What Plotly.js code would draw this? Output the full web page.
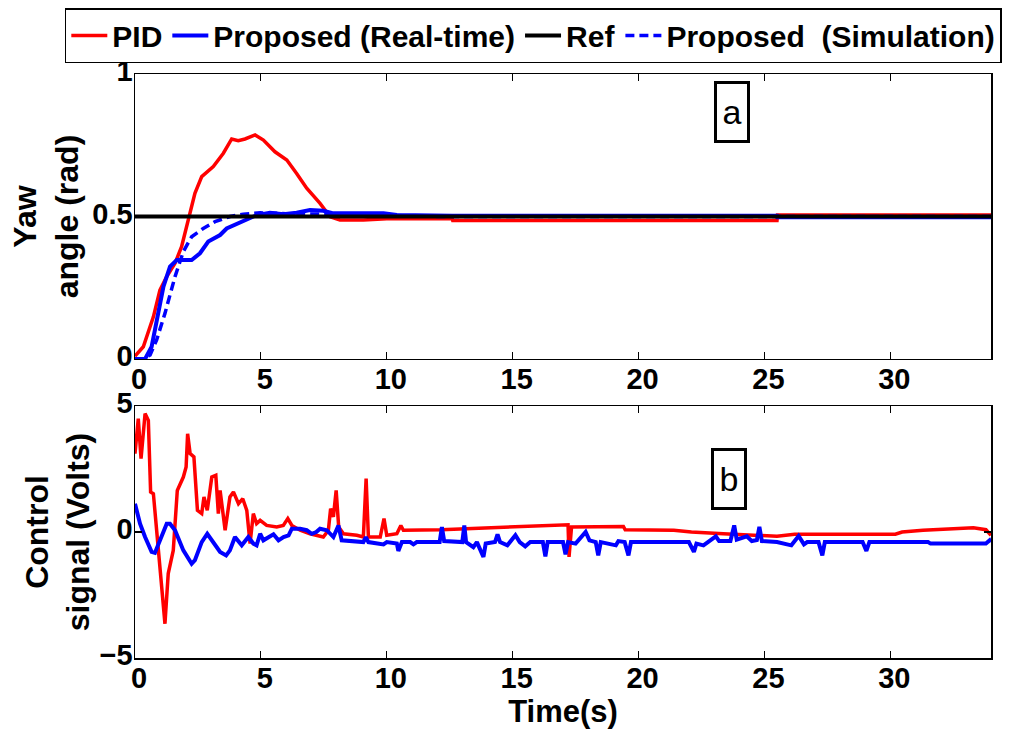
<!DOCTYPE html>
<html>
<head>
<meta charset="utf-8">
<script src="https://cdn.plot.ly/plotly-3.0.1.min.js"></script>
<style>html,body{margin:0;padding:0;background:#fff;}#chart{width:1016px;height:737px;}</style>
</head>
<body>
<div id="chart"></div>
<script>
// ---------- (a) Yaw angle ----------
const pidYawT = [0,0.33,0.73,0.99,1.26,1.59,1.85,2.12,2.38,2.65,3.11,3.51,3.84,4.1,4.37,4.77,5.10,5.56,6.03,6.42,6.82,7.35,7.75,8.14,9.07,10.0,12.6,12.62,25.5,25.52,34];
const pidYawV = [0.01,0.043,0.148,0.242,0.289,0.336,0.394,0.488,0.581,0.64,0.675,0.722,0.772,0.766,0.772,0.786,0.768,0.727,0.698,0.651,0.599,0.546,0.499,0.488,0.488,0.492,0.492,0.486,0.486,0.505,0.505];

const propYawT = [0,0.4,0.66,0.93,1.13,1.39,1.66,2.25,2.58,2.91,3.38,3.64,3.97,4.44,4.83,5.36,5.89,6.42,6.95,7.48,7.88,8.94,9.87,10.4,12.6,25.5,25.52,34];
const propYawV = [0,0,0.043,0.16,0.254,0.324,0.347,0.347,0.371,0.412,0.435,0.458,0.47,0.488,0.505,0.513,0.508,0.513,0.523,0.52,0.511,0.511,0.511,0.505,0.503,0.503,0.497,0.497];

const simYawT = [0,0.3,0.6,0.86,1.19,1.59,1.92,2.25,2.71,3.18,3.77,4.30,4.97,6,8,10,12,34];
const simYawV = [0,0,0.014,0.067,0.16,0.289,0.377,0.429,0.458,0.482,0.5,0.508,0.513,0.51,0.508,0.503,0.5,0.5];

const refT = [0,34];
const refV = [0.5,0.5];

// ---------- (b) Control signal ----------
const pidCtrlT = [0,0.13,0.24,0.40,0.53,0.62,0.73,0.93,1.19,1.32,1.52,1.68,1.92,2.03,2.09,2.19,2.34,2.48,2.65,2.74,2.87,3.05,3.21,3.31,3.38,3.58,3.77,3.91,4.11,4.28,4.44,4.57,4.70,4.83,4.97,5.23,5.63,5.89,6.07,6.23,6.56,6.95,7.48,7.68,7.77,7.88,7.99,8.09,8.28,8.81,9.07,9.18,9.27,9.74,9.89,10.0,10.4,10.56,10.66,12.16,14.15,16.28,17.2,17.24,17.34,19.4,19.47,21.4,22.1,23.37,25.5,26.2,30.2,30.47,31.3,33.3,33.8,34.0];
const pidCtrlV = [3.11,4.50,2.91,4.70,4.43,1.59,1.52,-0.73,-3.64,-1.65,-0.73,1.65,2.18,2.58,3.90,3.11,2.98,0.86,0.73,1.39,0.86,2.18,2.25,0.73,1.65,0.07,1.39,1.59,1.12,1.32,0.86,-0.46,0.73,0.33,0.46,0.26,0.20,0.26,0.53,0.26,0.07,-0.07,-0.20,0.07,0.93,0.60,1.65,0.20,-0.07,-0.13,-0.20,2.12,-0.20,-0.20,0.53,-0.13,-0.07,0.26,0.07,0.09,0.17,0.26,0.29,-0.99,0.20,0.22,0.09,0.07,0.0,-0.07,-0.17,-0.09,-0.09,0.0,0.07,0.17,0.09,-0.13];

const propCtrlT = [0,0.2,0.4,0.66,0.79,0.99,1.26,1.39,1.59,1.92,2.25,2.38,2.65,2.87,3.05,3.38,3.62,3.77,3.97,4.24,4.50,4.70,4.83,4.97,5.1,5.3,5.5,5.7,5.9,6.1,6.23,6.56,6.82,7.02,7.2,7.35,7.62,7.88,8.08,8.21,9.07,9.17,9.27,9.87,10.0,10.4,10.46,10.6,10.93,11.06,11.19,12.1,12.19,12.28,13.0,13.08,13.15,13.44,13.58,13.84,13.93,14.3,14.4,14.5,14.79,15.11,15.28,15.5,15.7,16.2,16.3,16.39,17.0,17.1,17.2,17.5,17.9,18.05,18.3,18.4,18.5,19.1,19.2,19.45,19.6,19.7,22.0,22.2,22.3,22.58,22.8,23.07,23.2,23.65,23.8,23.9,24.3,24.5,24.7,24.8,24.9,25.5,26.07,26.36,26.57,26.7,27.15,27.3,27.4,28.9,29.05,29.17,31.5,31.6,33.8,33.95,34.0];
const propCtrlV = [1.12,0.33,-0.2,-0.79,-0.83,-0.33,0.33,0.33,0.07,-0.73,-1.26,-1.12,-0.40,-0.07,-0.33,-0.79,-0.93,-0.73,-0.20,-0.53,-0.20,-0.46,-0.53,-0.07,-0.33,-0.20,-0.09,-0.33,-0.20,-0.13,0.13,0.13,0.07,-0.07,0.0,0.13,0.07,-0.20,0.26,-0.33,-0.40,-0.20,-0.40,-0.49,-0.40,-0.46,-0.75,-0.40,-0.40,-0.49,-0.40,-0.40,0.20,-0.36,-0.40,0.26,-0.40,-0.60,-0.40,-0.99,-0.46,-0.40,-0.09,-0.40,-0.53,-0.13,-0.40,-0.57,-0.40,-0.40,-0.97,-0.40,-0.40,-0.89,-0.40,-0.46,0.0,-0.33,-0.40,-0.93,-0.40,-0.53,-0.36,-0.40,-0.93,-0.40,-0.40,-0.79,-0.46,-0.53,-0.36,-0.17,-0.36,-0.36,0.26,-0.30,-0.17,-0.36,-0.32,0.20,-0.36,-0.40,-0.53,-0.16,-0.49,-0.40,-0.40,-0.93,-0.40,-0.40,-0.75,-0.40,-0.40,-0.46,-0.46,-0.33,-0.40];

const xTicks = [0,5,10,15,20,25,30];
const yTicksTop = [0,0.5,1];
const yTicksBot = [-5,0,5];

const RED = '#ff0000', BLUE = '#0000ff', BLACK = '#000000';
const FONT = 'Liberation Sans, Arial, sans-serif';

const traces = [
  {x: pidYawT, y: pidYawV, xaxis:'x', yaxis:'y', mode:'lines', name:'PID', legendrank:1,
   line:{color:RED, width:3.5}},
  {x: simYawT, y: simYawV, xaxis:'x', yaxis:'y', mode:'lines', name:'Proposed  (Simulation)', legendrank:4,
   line:{color:BLUE, width:3.5, dash:'9px,5px'}},
  {x: propYawT, y: propYawV, xaxis:'x', yaxis:'y', mode:'lines', name:'Proposed (Real-time)', legendrank:2,
   line:{color:BLUE, width:4}},
  {x: refT, y: refV, xaxis:'x', yaxis:'y', mode:'lines', name:'Ref', legendrank:3,
   line:{color:BLACK, width:4}},
  {x: pidCtrlT, y: pidCtrlV, xaxis:'x2', yaxis:'y2', mode:'lines', name:'PID', showlegend:false,
   line:{color:RED, width:3.5}},
  {x: propCtrlT, y: propCtrlV, xaxis:'x2', yaxis:'y2', mode:'lines', name:'Proposed (Real-time)', showlegend:false,
   line:{color:BLUE, width:4}}
];

const axisCommon = {
  showline:true, linecolor:'#000', linewidth:1.5, mirror:'ticks',
  ticks:'inside', ticklen:7, tickwidth:1.2, tickcolor:'#000',
  showgrid:false, zeroline:false, automargin:false,
  tickfont:{family:FONT, size:29, color:'#000', weight:'bold'}
};

const layout = {
  width:1016, height:737,
  margin:{l:135, r:25, t:74, b:79, autoexpand:false},
  paper_bgcolor:'#fff', plot_bgcolor:'#fff',
  font:{family:FONT, color:'#000'},
  showlegend:true,
  legend:{orientation:'h', x:-0.082, xanchor:'left', y:1.113, yanchor:'top',
    bordercolor:'#000', borderwidth:1.5, bgcolor:'#fff',
    font:{family:FONT, size:30, color:'#000', weight:'bold'},
    itemwidth:36, tracegroupgap:0},
  xaxis: Object.assign({}, axisCommon, {domain:[0,1], anchor:'y', range:[0,34], tickvals:xTicks,
    ticklabelstandoff:-6, ticklabelshift:4}),
  yaxis: Object.assign({}, axisCommon, {domain:[0.512,1], anchor:'x', range:[0,1], tickvals:yTicksTop,
    ticktext:['0','0.5','1'], ticklabelstandoff:-5, ticklabelshift:-3,
    title:{text:'Yaw<br>angle (rad)', standoff:4, font:{family:FONT, size:32, weight:'bold'}}}),
  xaxis2: Object.assign({}, axisCommon, {domain:[0,1], anchor:'y2', range:[0,34], tickvals:xTicks,
    ticklabelstandoff:-6, ticklabelshift:4,
    title:{text:'Time(s)', standoff:0, font:{family:FONT, size:31, weight:'bold'}}}),
  yaxis2: Object.assign({}, axisCommon, {domain:[0,0.4315], anchor:'x2', range:[-5,5], tickvals:yTicksBot,
    ticklabelstandoff:-5, ticklabelshift:-3,
    title:{text:'Control<br>signal (Volts)', standoff:0, font:{family:FONT, size:32, weight:'bold'}}}),
  annotations:[
    {xref:'x', yref:'y', x:23.7, y:0.865, text:'a', showarrow:false,
     font:{family:FONT, size:34, color:'#000'}, width:30, height:56,
     bordercolor:'#000', borderwidth:3, borderpad:0, bgcolor:'#fff'},
    {xref:'x2', yref:'y2', x:23.6, y:2.1, text:'b', showarrow:false,
     font:{family:FONT, size:34, color:'#000'}, width:30, height:56,
     bordercolor:'#000', borderwidth:3, borderpad:0, bgcolor:'#fff'}
  ]
};

Plotly.newPlot('chart', traces, layout, {displayModeBar:false, staticPlot:true});
</script>
</body>
</html>
